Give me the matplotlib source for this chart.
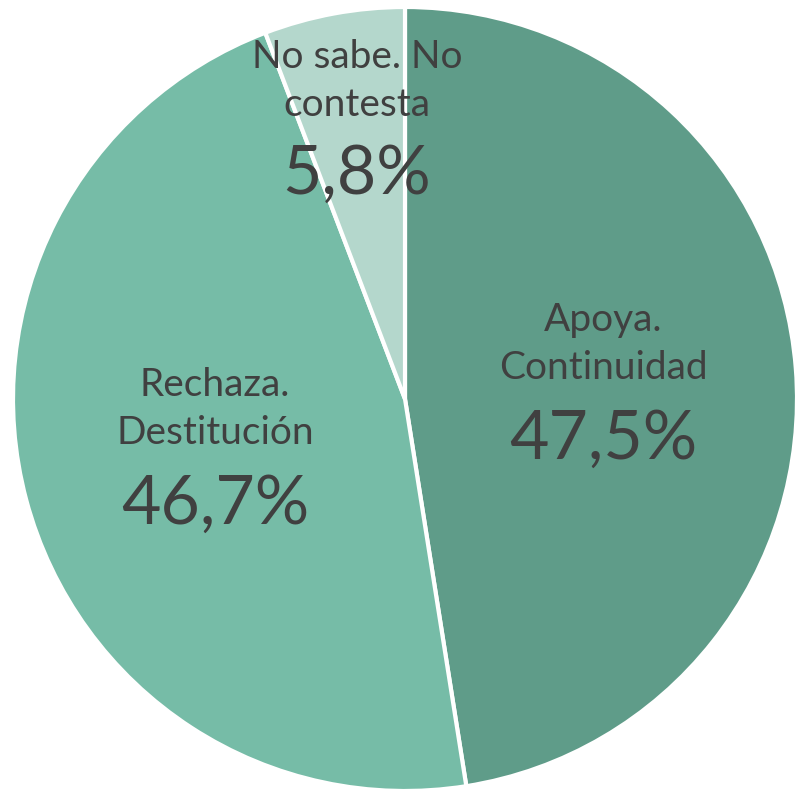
import matplotlib
matplotlib.use("Agg")
import matplotlib.pyplot as plt

labels = ["Apoya.\nContinuidad", "Rechaza.\nDestitución", "No sabe. No\ncontesta"]
values = [47.5, 46.7, 5.8]
pct_text = ["47,5%", "46,7%", "5,8%"]
colors = ["#5f9c89", "#76bca7", "#b4d7cc"]

# label block centres in pixel coords (x, y from top): name, percent
name_pos = [(603, 344), (215, 409), (357, 81)]
pct_pos = [(603, 440), (215, 505), (357, 175)]

W = H = 795
fig = plt.figure(figsize=(W / 100, H / 100), dpi=100)
ax = fig.add_axes([0, 0, 1, 1])

ax.pie(values, colors=colors, startangle=90, counterclock=False,
       center=(405, H - 399), radius=392,
       wedgeprops=dict(edgecolor="white", linewidth=3))
ax.set_xlim(0, W)
ax.set_ylim(0, H)
ax.set_aspect("equal")
ax.axis("off")

for name, (x, y) in zip(labels, name_pos):
    ax.text(x, H - y, name, ha="center", va="center", fontsize=28,
            family="Lato", color="#404040", linespacing=1.38)
for p, (x, y) in zip(pct_text, pct_pos):
    ax.text(x, H - y, p, ha="center", va="center", fontsize=49,
            family="Lato", color="#404040")

plt.savefig("out.png", dpi=100)
plt.close()
